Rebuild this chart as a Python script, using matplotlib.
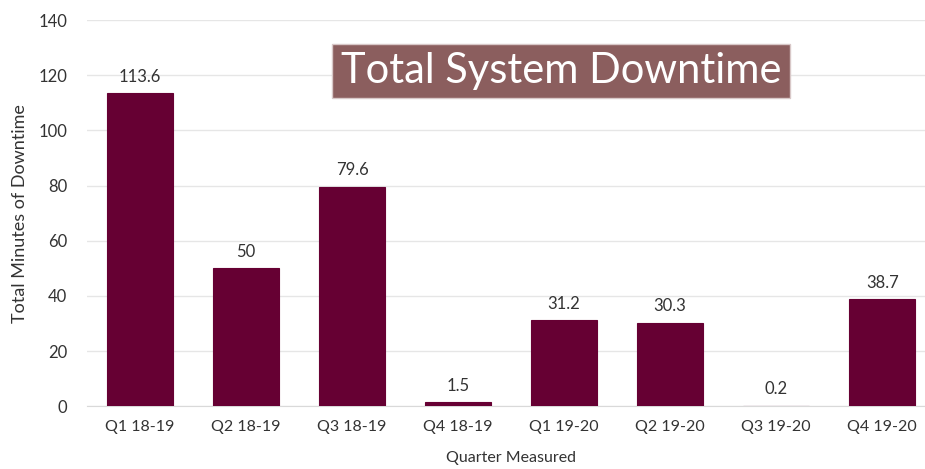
import matplotlib
matplotlib.use('Agg')
import matplotlib.pyplot as plt

quarters = ['Q1 18-19', 'Q2 18-19', 'Q3 18-19', 'Q4 18-19',
            'Q1 19-20', 'Q2 19-20', 'Q3 19-20', 'Q4 19-20']
downtime = [113.6, 50, 79.6, 1.5, 31.2, 30.3, 0.2, 38.7]
value_labels = ['113.6', '50', '79.6', '1.5', '31.2', '30.3', '0.2', '38.7']

plt.rcParams['font.family'] = ['Lato', 'DejaVu Sans']

fig = plt.figure(figsize=(9.25, 4.69), dpi=100)
fig.patch.set_facecolor('white')
ax = fig.add_axes([0.094, 0.134, 0.917, 0.823])

x = range(len(quarters))
bars = ax.bar(x, downtime, width=0.62, color='#660033', zorder=3,
              edgecolor='#660033', linewidth=0.8)
for i, (v, lab) in enumerate(zip(downtime, value_labels)):
    ax.text(i, v + 3, lab, ha='center', va='bottom', fontsize=12, color='#333333')

ax.set_xlim(-0.5, len(quarters) - 0.5)
ax.set_ylim(0, 140)
ax.set_yticks(range(0, 141, 20))
ax.set_xticks(list(x))
ax.set_xticklabels(quarters, fontsize=11.5, color='#333333')
ax.tick_params(axis='y', labelsize=12, labelcolor='#333333', length=0, pad=14)
ax.tick_params(axis='x', length=0, pad=10)
ax.yaxis.grid(True, color='#e6e6e6', linewidth=1, zorder=0)
for s in ['top', 'right', 'left']:
    ax.spines[s].set_visible(False)
ax.spines['bottom'].set_color('#d9d9d9')

ax.set_ylabel('Total Minutes of Downtime', fontsize=13, color='#333333', labelpad=8)
ax.set_xlabel('Quarter Measured', fontsize=11.5, color='#333333', labelpad=12)

fig.text(561 / 925, 1 - 71 / 469, 'Total System Downtime', fontsize=30,
         color='white', ha='center', va='center',
         bbox=dict(boxstyle='square,pad=0.2', facecolor='#8b5e5e', edgecolor='#d8c8c8'))

plt.savefig('out.png', dpi=100, facecolor='white')
plt.close()
